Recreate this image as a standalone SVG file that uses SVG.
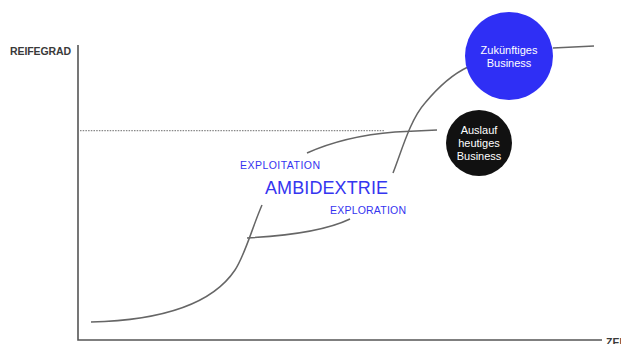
<svg xmlns="http://www.w3.org/2000/svg" width="621" height="344" viewBox="0 0 621 344">
<style>
.axis{stroke:#555;stroke-width:1.6;fill:none}
.curve{stroke:#666;stroke-width:1.5;fill:none}
.lbl{font-family:"Liberation Sans",Arial,sans-serif;fill:#3a3a3a;font-size:10.5px;font-weight:bold}
.blue{font-family:"Liberation Sans",Arial,sans-serif;fill:#3535f0}
.wt{font-family:"Liberation Sans",Arial,sans-serif;fill:#fff;font-size:11px;text-anchor:middle}
</style>
<rect width="621" height="344" fill="#fff"/>
<g id="axes">
<path class="axis" d="M78,45 V340 H602"/>
<text class="lbl" x="10" y="55" textLength="61">REIFEGRAD</text>
<text class="lbl" x="606" y="346">ZEIT</text>
</g>
<g id="connectors">
<line x1="80" y1="130.7" x2="385" y2="130.7" stroke="#888" stroke-width="1.3" stroke-dasharray="1.5,1.2"/>
<path class="curve" d="M91,322 C170,320 215,300 235,270 C245,255 252,228 262,205"/>
<path class="curve" d="M307,153 Q345,136 395,132 L437,130"/>
<path class="curve" d="M247,238 C285,236 325,231 350,219"/>
<path class="curve" d="M393,173 C402,150 410,120 425,103 C440,85 455,73 468,67"/>
<path class="curve" d="M553,48 L594,46"/>
</g>
<g id="texts">
<text class="blue" x="240" y="169" font-size="10.5" textLength="80">EXPLOITATION</text>
<text class="blue" x="265" y="194" font-size="18" textLength="123">AMBIDEXTRIE</text>
<text class="blue" x="330" y="214" font-size="10.5" textLength="76">EXPLORATION</text>
</g>
<g id="zukuenftiges">
<circle cx="509" cy="56" r="44" fill="#2f2ff5"/>
<text class="wt" x="509" y="54">Zukünftiges</text>
<text class="wt" x="509" y="67">Business</text>
</g>
<g id="auslauf">
<circle cx="479" cy="143" r="33" fill="#111"/>
<text class="wt" x="479" y="134">Auslauf</text>
<text class="wt" x="479" y="147">heutiges</text>
<text class="wt" x="479" y="160">Business</text>
</g>
</svg>
